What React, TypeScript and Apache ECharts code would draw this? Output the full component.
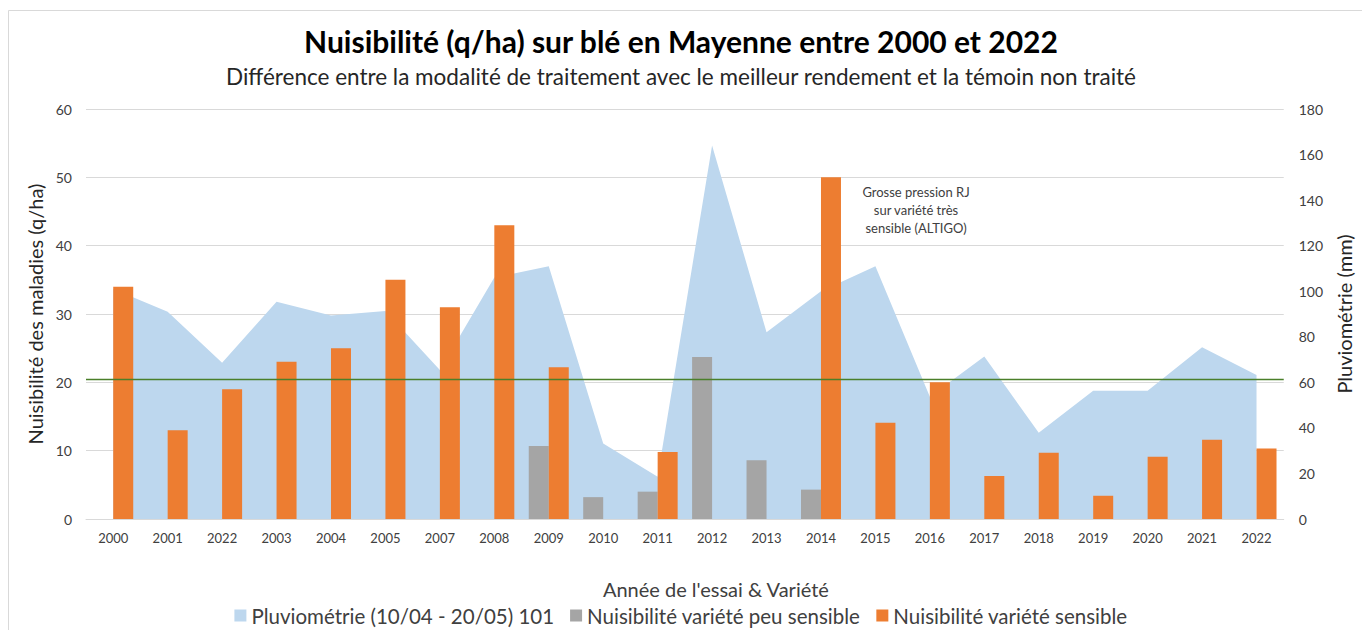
import React, { useEffect, useRef } from 'react';
import * as echarts from 'echarts';

const categories = ['2000', '2001', '2022', '2003', '2004', '2005', '2007', '2008', '2009', '2010', '2011', '2012', '2013', '2014', '2015', '2016', '2017', '2018', '2019', '2020', '2021', '2022'];
const rainfall = [101, 91, 68.6, 95.4, 89.3, 91.3, 65.4, 106, 111, 33.2, 18.6, 164, 82, 100, 111, 53.7, 71.3, 37.9, 56.3, 56.3, 75.4, 63.2];
const lowSensitivity = [null, null, null, null, null, null, null, null, 10.7, 3.2, 4.0, 23.7, 8.6, 4.3, null, null, null, null, null, null, null, null];
const highSensitivity = [34, 13, 19, 23, 25, 35, 31, 43, 22.2, null, 9.8, null, null, 50, 14.1, 20, 6.3, 9.7, 3.4, 9.1, 11.6, 10.3];
const referenceRainfall = 61.5;

const seriesNames = ['Pluviométrie (10/04 - 20/05) 101', 'Nuisibilité variété peu sensible', 'Nuisibilité variété sensible'];
const annotation = 'Grosse pression RJ\nsur variété très\nsensible (ALTIGO)';

const FONT = 'Lato';

export default function App() {
  const ref = useRef<HTMLDivElement>(null);
  useEffect(() => {
    document.body.style.margin = '0';
    const chart = echarts.init(ref.current!, null, { renderer: 'svg' });
    chart.setOption({
      animation: false,
      backgroundColor: '#fff',
      textStyle: { fontFamily: FONT },
      title: {
        text: 'Nuisibilité (q/ha) sur blé en Mayenne entre 2000 et 2022',
        subtext: 'Différence entre la modalité de traitement avec le meilleur rendement et la témoin non traité',
        left: 'center',
        top: 21,
        itemGap: 9,
        textStyle: { fontFamily: FONT, fontSize: 30, fontWeight: 'bold', color: '#000' },
        subtextStyle: { fontFamily: FONT, fontSize: 22.5, color: '#262626' },
      },
      legend: {
        top: 600,
        left: 'center',
        icon: 'rect',
        itemWidth: 12,
        itemHeight: 12,
        itemGap: 16,
        textStyle: { fontFamily: FONT, fontSize: 20.5, color: '#404040' },
        data: seriesNames,
      },
      grid: { left: 86, right: 77, top: 109, bottom: 111 },
      xAxis: {
        type: 'category',
        data: categories,
        boundaryGap: true,
        name: "Année de l'essai & Variété",
        nameLocation: 'middle',
        nameGap: 60,
        nameTextStyle: { fontFamily: FONT, fontSize: 20, color: '#404040', padding: [0, 0, 0, 62] },
        axisLine: { lineStyle: { color: '#d9d9d9' } },
        axisTick: { show: false },
        axisLabel: { color: '#404040', fontSize: 13, margin: 12, interval: 0 },
      },
      yAxis: [
        {
          type: 'value',
          min: 0,
          max: 60,
          interval: 10,
          name: 'Nuisibilité des maladies (q/ha)',
          nameLocation: 'middle',
          nameGap: 36,
          nameTextStyle: { fontFamily: FONT, fontSize: 20, color: '#262626' },
          axisLabel: { color: '#404040', fontSize: 14, margin: 14 },
          splitLine: { lineStyle: { color: '#d9d9d9' } },
          axisLine: { show: false },
        },
        {
          type: 'value',
          min: 0,
          max: 180,
          interval: 20,
          name: 'Pluviométrie (mm)',
          nameLocation: 'middle',
          nameGap: 48,
          nameTextStyle: { fontFamily: FONT, fontSize: 20, color: '#262626' },
          axisLabel: { color: '#404040', fontSize: 14, margin: 15 },
          splitLine: { show: false },
          axisLine: { show: false },
        },
      ],
      series: [
        {
          name: seriesNames[0],
          type: 'line',
          yAxisIndex: 1,
          data: rainfall,
          symbol: 'none',
          lineStyle: { width: 0 },
          itemStyle: { color: '#BDD7EE' },
          areaStyle: { color: '#BDD7EE', opacity: 1 },
          z: 1,
          markLine: {
            silent: true,
            symbol: 'none',
            label: { show: false },
            lineStyle: { color: '#4A7F2A', width: 1.3, type: 'solid', opacity: 1 },
            data: [{ yAxis: referenceRainfall }],
          },
        },
        {
          name: seriesNames[1],
          type: 'bar',
          data: lowSensitivity,
          barWidth: 20,
          barGap: '0%',
          itemStyle: { color: '#A5A5A5' },
          z: 2,
        },
        {
          name: seriesNames[2],
          type: 'bar',
          data: highSensitivity,
          barWidth: 20,
          barGap: '0%',
          itemStyle: { color: '#ED7D31' },
          z: 2,
        },
      ],
      graphic: [
        {
          type: 'rect',
          silent: true,
          shape: { x: 8.5, y: 10.5, width: 1400, height: 700 },
          style: { fill: 'none', stroke: '#d9d9d9', lineWidth: 1 },
        },
        {
          type: 'text',
          x: 916,
          y: 210,
          style: {
            text: annotation,
            fontFamily: FONT,
            fontSize: 13,
            lineHeight: 18,
            fill: '#404040',
            align: 'center',
            verticalAlign: 'middle',
          },
        },
      ],
    });
    return () => chart.dispose();
  }, []);
  return <div ref={ref} style={{ width: 1362, height: 630 }} />;
}
